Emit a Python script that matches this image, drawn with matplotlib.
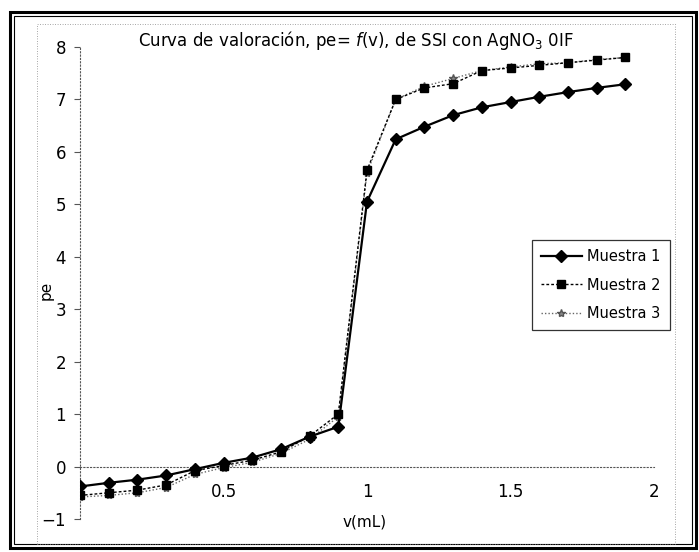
import matplotlib.pyplot as plt
from matplotlib.patches import Rectangle

# Datos de la valoración
v_ml = [0.0, 0.1, 0.2, 0.3, 0.4, 0.5, 0.6, 0.7, 0.8, 0.9,
        1.0, 1.1, 1.2, 1.3, 1.4, 1.5, 1.6, 1.7, 1.8, 1.9]
muestra_1 = [-0.38, -0.31, -0.25, -0.17, -0.05, 0.07, 0.17, 0.33, 0.57, 0.76,
             5.05, 6.24, 6.48, 6.70, 6.85, 6.95, 7.05, 7.14, 7.22, 7.29]
muestra_2 = [-0.55, -0.50, -0.45, -0.35, -0.08, 0.02, 0.12, 0.28, 0.58, 1.00,
             5.65, 7.00, 7.22, 7.30, 7.55, 7.60, 7.65, 7.70, 7.75, 7.80]
muestra_3 = [-0.58, -0.55, -0.50, -0.40, -0.15, -0.02, 0.08, 0.25, 0.52, 0.95,
             5.60, 7.00, 7.25, 7.40, 7.55, 7.62, 7.68, 7.70, 7.76, 7.80]

x_ticks = [0.5, 1, 1.5, 2]
x_labels = ["0.5", "1", "1.5", "2"]
y_ticks = [-1, 0, 1, 2, 3, 4, 5, 6, 7, 8]

W, H = 699, 552
fig = plt.figure(figsize=(W / 100, H / 100), dpi=100)

# marco doble alrededor del gráfico
fig.patches.append(Rectangle((10 / W, 4 / H), 686 / W, 536 / H, transform=fig.transFigure,
                             fill=False, lw=2.2, ec='black'))
fig.patches.append(Rectangle((14 / W, 8 / H), 678 / W, 528 / H, transform=fig.transFigure,
                             fill=False, lw=0.8, ec='black'))
# borde punteado del área de trazado
fig.patches.append(Rectangle((37 / W, 8 / H), 638 / W, 520 / H, transform=fig.transFigure,
                             fill=False, lw=0.6, ec='#888888', ls=(0, (1, 2))))

ax = fig.add_axes([80 / W, 1 - 519 / H, 574 / W, 472 / H])
ax.set_facecolor('none')

ax.plot(v_ml, muestra_3, color='#666666', ls=(0, (1, 1.5)), lw=1,
        marker='*', ms=6, mfc='#888888', mec='#555555', label='Muestra 3', zorder=3)
ax.plot(v_ml, muestra_2, color='black', ls=(0, (2, 1.5)), lw=1,
        marker='s', ms=6, label='Muestra 2', zorder=4)
ax.plot(v_ml, muestra_1, color='black', ls='-', lw=1.6,
        marker='D', ms=6.5, label='Muestra 1', zorder=5)

ax.set_xlim(0, 2)
ax.set_ylim(-1, 8)

for s in ['top', 'right']:
    ax.spines[s].set_visible(False)
ax.spines['left'].set_linestyle((0, (1, 2)))
ax.spines['left'].set_color('#555555')
ax.spines['left'].set_linewidth(0.8)
ax.spines['bottom'].set_position(('data', 0))
ax.spines['bottom'].set_linestyle((0, (1, 2)))
ax.spines['bottom'].set_color('#555555')
ax.spines['bottom'].set_linewidth(0.8)

ax.set_xticks(x_ticks)
ax.set_xticklabels(x_labels)
ax.set_yticks(y_ticks)
ax.tick_params(axis='x', length=0, pad=12, labelsize=12)
ax.tick_params(axis='y', length=4, width=0.8, color='#555555', pad=6, labelsize=12)

fig.text(365 / W, 1 - 522 / H, "v(mL)", ha='center', va='center', fontsize=11)
fig.text(46 / W, 1 - 290 / H, "pe", ha='center', va='center', fontsize=11, rotation=90)
fig.text(356 / W, 1 - 40 / H,
         r"Curva de valoración, pe= $\it{f}$(v), de SSI con AgNO$_3$ 0IF",
         ha='center', va='center', fontsize=12)

handles, labels = ax.get_legend_handles_labels()
leg = ax.legend(handles[::-1], labels[::-1], loc='upper left',
                bbox_to_anchor=(532 / W, 1 - 240 / H), bbox_transform=fig.transFigure,
                fontsize=10.5, frameon=True, fancybox=False, borderpad=0.6,
                labelspacing=0.95, handlelength=2.8, handletextpad=0.4, borderaxespad=0)
leg.get_frame().set_edgecolor('black')
leg.get_frame().set_linewidth(0.9)

fig.savefig('out.png', dpi=100)
